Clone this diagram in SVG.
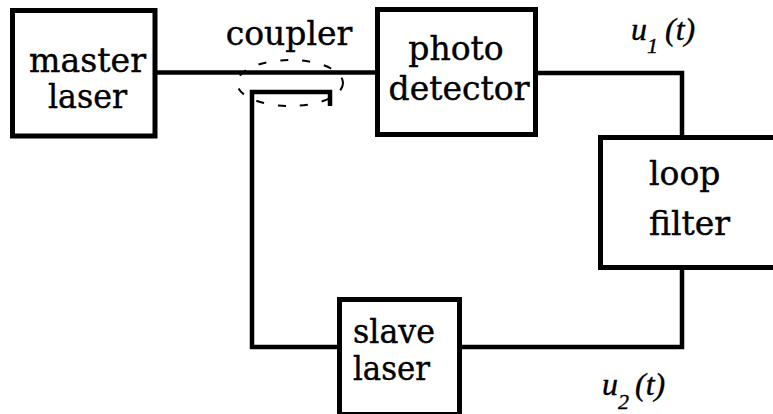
<svg xmlns="http://www.w3.org/2000/svg" width="773" height="414" viewBox="0 0 773 414">
<style>
.box{fill:#fff;stroke:#000;stroke-width:5}
.wire{fill:none;stroke:#000;stroke-width:4.5;stroke-linejoin:miter}
.lbl{font-family:"DejaVu Serif","Liberation Serif",serif;font-size:33px;fill:#000;stroke:#000;stroke-width:0.4}
.math{font-family:"Liberation Serif","DejaVu Serif",serif;font-style:italic;font-size:32px;fill:#000;stroke:#000;stroke-width:0.4}
</style>
<rect width="773" height="414" fill="#fff"/>
<g id="connectors">
<path class="wire" d="M155 72.5 H377"/>
<path class="wire" d="M536 73 H682 V137"/>
<path class="wire" d="M682 268 V347 H460"/>
<path class="wire" d="M339 347 H252 V92 H330 V106"/>
</g>
<g id="coupler">
<ellipse cx="290" cy="83" rx="53" ry="23" fill="none" stroke="#000" stroke-width="2" stroke-dasharray="8 14"/>
<text class="lbl" x="289" y="45" text-anchor="middle" font-size="28">coupler</text>
</g>
<g id="master">
<rect class="box" x="12.5" y="10.5" width="142.5" height="125.5"/>
<text class="lbl" font-size="28"><tspan x="29" y="72" textLength="117" lengthAdjust="spacingAndGlyphs">master</tspan><tspan x="48" y="108" textLength="79" lengthAdjust="spacingAndGlyphs">laser</tspan></text>
</g>
<g id="photodetector">
<rect class="box" x="377.5" y="9.5" width="158" height="125"/>
<text class="lbl" text-anchor="middle"><tspan x="456" y="60">photo</tspan><tspan x="459" y="100">detector</tspan></text>
</g>
<g id="loopfilter">
<rect class="box" x="600.5" y="137.5" width="180" height="130"/>
<text class="lbl"><tspan x="649" y="185">loop</tspan><tspan x="649" y="235">filter</tspan></text>
</g>
<g id="slavelaser">
<rect class="box" x="339.5" y="299.5" width="120" height="115"/>
<text class="lbl" font-size="26"><tspan x="353" y="343" textLength="82" lengthAdjust="spacingAndGlyphs">slave</tspan><tspan x="353" y="380" textLength="77" lengthAdjust="spacingAndGlyphs">laser</tspan></text>
</g>
<g id="labels">
<text class="math" x="631" y="40">u<tspan font-size="22" dy="13">1</tspan><tspan dy="-13" dx="7">(t)</tspan></text>
<text class="math" x="602" y="395">u<tspan font-size="22" dy="14">2</tspan><tspan dy="-14" dx="6">(t)</tspan></text>
</g>
</svg>
